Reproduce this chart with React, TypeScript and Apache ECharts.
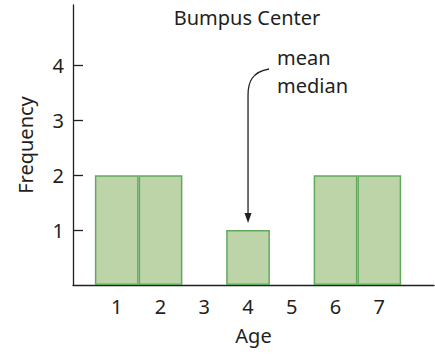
import React, { useEffect, useRef } from "react";
import * as echarts from "echarts";

const ages = [1, 2, 4, 6, 7];
const frequencies = [2, 2, 1, 2, 2];
const xTickLabels = [1, 2, 3, 4, 5, 6, 7];
const yTickLabels = [1, 2, 3, 4];
const titleText = "Bumpus Center";
const annotationLines = ["mean", "median"];
const annotationTarget = [4, 1];

const FONT = "'Noto Sans', 'Open Sans', sans-serif";
const INK = "#231f20";
const FS = 20;

export default function App() {
  const ref = useRef<HTMLDivElement>(null);
  useEffect(() => {
    if (!ref.current) return;
    const chart = echarts.init(ref.current, null, { renderer: "svg" });
    const W = 435;
    const gridLeft = 73;
    const gridRight = 1;
    const xMax = 8.25;
    const unit = (W - gridLeft - gridRight) / xMax;
    chart.setOption({
      animation: false,
      textStyle: { fontFamily: FONT },
      grid: { left: gridLeft, right: gridRight, top: 5, bottom: 69 },
      xAxis: {
        type: "value",
        min: 0,
        max: xMax,
        name: "Age",
        nameLocation: "middle",
        nameGap: 40,
        nameTextStyle: { fontSize: FS, color: INK, fontFamily: FONT },
        axisLine: { show: true, lineStyle: { color: INK, width: 1.3 } },
        axisTick: { show: false },
        splitLine: { show: false },
        axisLabel: {
          customValues: xTickLabels,
          fontSize: FS,
          color: INK,
          margin: 11,
          fontFamily: FONT,
        },
      },
      yAxis: {
        type: "value",
        min: 0,
        max: 5.1,
        name: "Frequency",
        nameLocation: "middle",
        nameGap: 38,
        nameTextStyle: { fontSize: FS, color: INK, fontFamily: FONT },
        axisLine: { show: true, lineStyle: { color: INK, width: 1.3 } },
        axisTick: {
          show: true,
          inside: true,
          length: 10,
          customValues: yTickLabels,
          lineStyle: { color: INK, width: 1.3 },
        },
        splitLine: { show: false },
        axisLabel: {
          customValues: yTickLabels,
          fontSize: FS,
          color: INK,
          margin: 9,
          fontFamily: FONT,
        },
      },
      series: [
        {
          type: "bar",
          data: ages.map((a, i) => [a, frequencies[i]]),
          barWidth: unit,
          itemStyle: {
            color: "#bdd4a9",
            borderColor: "#62a95e",
            borderWidth: 1.5,
          },
        },
      ],
    });

    const tip = chart.convertToPixel({ gridIndex: 0 }, annotationTarget) as number[];
    const ax = tip[0];
    const ay = tip[1] - 7;
    const textX = ax + 29;
    chart.setOption({
      graphic: [
        {
          type: "text",
          x: ax - 1,
          y: 17,
          style: {
            text: titleText,
            fontSize: FS,
            fill: INK,
            fontFamily: FONT,
            align: "center",
            verticalAlign: "middle",
          },
        },
        ...annotationLines.map((t, i) => ({
          type: "text",
          x: textX,
          y: 57 + i * 28,
          style: {
            text: t,
            fontSize: FS,
            fill: INK,
            fontFamily: FONT,
            align: "left",
            verticalAlign: "middle",
          },
        })),
        {
          type: "bezierCurve",
          shape: {
            x1: ax + 21,
            y1: 69,
            cpx1: ax + 4,
            cpy1: 72,
            cpx2: ax,
            cpy2: 82,
            x2: ax,
            y2: 95,
          },
          style: { stroke: INK, lineWidth: 1.3, fill: "none" },
        },
        {
          type: "line",
          shape: { x1: ax, y1: 95, x2: ax, y2: ay - 8 },
          style: { stroke: INK, lineWidth: 1.3 },
        },
        {
          type: "polygon",
          shape: {
            points: [
              [ax - 3.5, ay - 10],
              [ax + 3.5, ay - 10],
              [ax, ay],
            ],
          },
          style: { fill: INK },
        },
      ],
    });
    return () => chart.dispose();
  }, []);
  return (
    <div
      ref={ref}
      style={{ position: "absolute", left: 0, top: 0, width: 435, height: 354 }}
    />
  );
}
